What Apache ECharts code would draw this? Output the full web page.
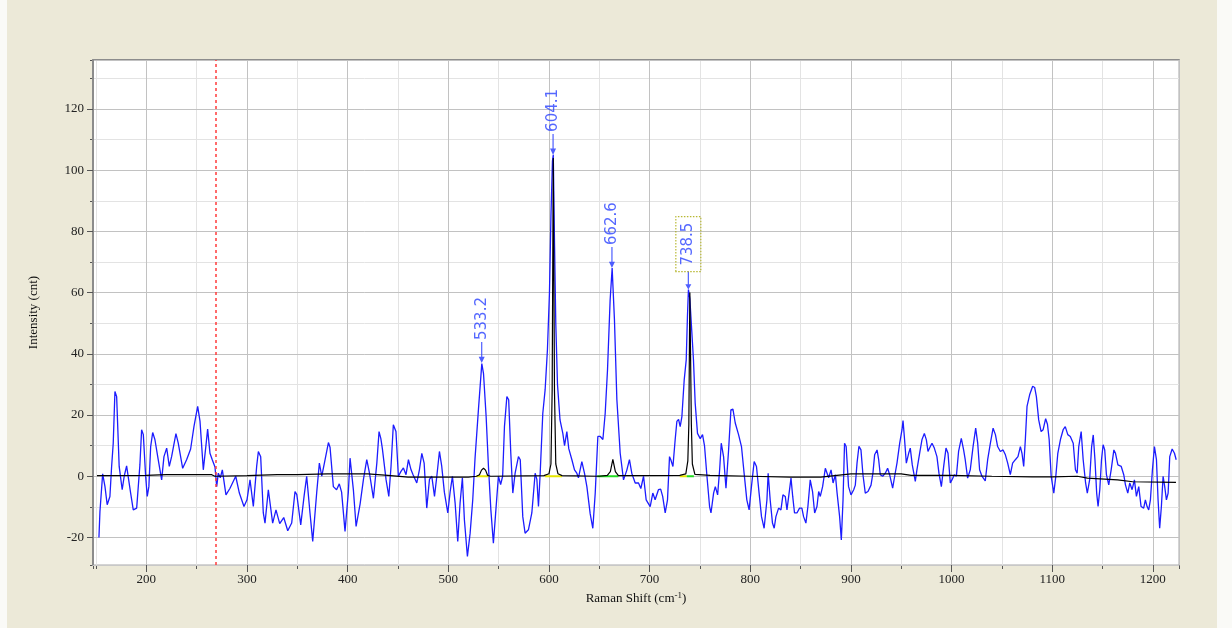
<!DOCTYPE html>
<html><head><meta charset="utf-8">
<script src="https://cdn.jsdelivr.net/npm/echarts@6/dist/echarts.min.js"></script>
<style>
html,body{margin:0;padding:0;background:#fafaf7;width:1232px;height:628px;overflow:hidden}
#panel{position:absolute;left:7px;top:0;width:1210px;height:628px;background:#ece9d8}
#chart{width:1210px;height:628px}
</style></head><body>
<div id="panel"><div id="chart"></div></div>
<script>
// Axis ranges (cm-1 and counts)
const shiftRange = [147, 1226];
const intensityRange = [-29, 136];
const redMarker = 269;

// Measured Raman spectrum (blue trace): [shift, intensity]
const spectrum = [[152.9,-20],[153.9,-11.5],[156.6,0.8],[158.9,-3.4],[161.1,-9.3],[163.8,-6.6],[165.5,3.2],[167.1,10.8],[168.8,27.7],[170.5,26],[173,3.2],[176,-4.4],[178,0],[180.4,3.4],[182,3],[184.4,-5.5],[187,-11],[190.4,-10.4],[193.6,3.7],[195.3,15.2],[197,13.6],[199.3,0],[200.9,-6.6],[202.5,-3.4],[204.3,9.7],[206.3,14.3],[208.5,12],[211.8,5.4],[215.2,-1.2],[217.5,6.4],[220.2,9.2],[222.8,3.2],[225.1,6.4],[229.4,13.9],[231.7,10.8],[236.1,2.6],[240,5.4],[244,8.9],[247.3,16.2],[251,22.8],[253.3,18],[256.6,2.1],[259.2,10],[260.9,15.4],[263.2,7.5],[265.5,5.4],[268.2,3],[269.9,-3.4],[271.5,1],[273.5,-0.5],[275.5,2.1],[279.1,-6.1],[283,-4],[288.8,0],[292.4,-5.5],[297,-9.9],[300,-7.7],[303,-1.2],[306.3,-9.9],[309.6,3.2],[311.3,8.1],[313.6,6.4],[316.2,-12],[317.9,-15.3],[321.2,-4.4],[325.5,-15.3],[328.8,-11],[332.5,-15.5],[336.5,-13.5],[340.5,-17.8],[344.4,-15.3],[347.7,-5],[349.5,-6],[353.4,-15.9],[356.7,-6.6],[359.3,0],[362.6,-12],[365.3,-21.3],[369.3,-5.2],[371.9,4.3],[374.3,0],[376.9,4.3],[380.9,11],[382.5,9.5],[385.8,-3.4],[389,-4.4],[391.7,-2.5],[394,-5.2],[397.4,-18],[400.7,-5.2],[402.4,5.9],[405.8,-4.8],[408.4,-16.4],[412.4,-9],[415.7,-1],[419,5.4],[421.7,1],[425.6,-7.2],[429,4.3],[431.2,14.6],[433,12.3],[434.5,9],[438.2,-1.2],[440.9,-6.6],[443.1,3.2],[445.4,16.8],[448,14.6],[450.4,0],[453,1.6],[455.4,2.7],[458,0.5],[460.4,5.4],[463,2.1],[465,0.5],[468.7,-2.2],[471.3,2.1],[473.7,7.5],[476,4.3],[478.6,-10.4],[481.3,-1],[483.6,0],[486.3,-6.6],[488.6,0],[491.2,8.1],[493.5,3.2],[496.1,-5.2],[499.5,-12],[501.8,-5.2],[504.1,0],[506.8,-8.8],[509.4,-21.3],[511.7,-8.8],[514,-0.5],[516,-14.2],[519,-26.2],[521.7,-18.6],[524.3,-7.7],[526.6,6],[530,22],[533.3,36.8],[535,33.5],[537.6,19.5],[539.9,3.2],[542.3,-11],[544.8,-21.9],[547,-12.3],[549.8,0],[552,-2.7],[554,0],[555.8,16.2],[558.2,26],[560,25],[562.1,7.5],[564.1,-5.5],[566.4,1],[569.7,6.4],[571.5,5.4],[574,-13.2],[576.3,-18.6],[579.6,-17.5],[583,-12],[586.3,1],[588,-1],[589.6,-9.9],[591.3,1],[593.9,20.6],[596.2,28.2],[598.5,41.3],[600.5,59.8],[602,85],[603.5,103],[604.3,105],[605.6,75],[606.8,50],[608.5,30],[611,18.4],[613.8,14],[615.5,10],[617.8,14.6],[619.7,9],[622.8,5.4],[625.4,2.1],[627.7,1],[629.3,-0.5],[632.7,4.8],[635.3,1],[637.7,-3.4],[641,-12.3],[643.6,-17],[646,-5.5],[648.6,13],[651,13],[653.6,12],[655.9,20.6],[658.2,34.8],[660.8,57.6],[662.8,68],[665.1,51],[667.5,25],[670.8,7.5],[674.1,-1.2],[677.4,2],[680,5.4],[682.3,1],[685.7,-2.2],[689,-2.2],[691.3,-4],[694,0],[696.6,-7.7],[700.6,-9.9],[703.2,-5.5],[705.5,-7.7],[708.8,-4.4],[711,-4.2],[713,-6.6],[715.5,-12],[717.8,-7.7],[719.8,6.4],[721.1,5.4],[723.2,3.2],[725.4,11.9],[727.1,17.9],[728.8,18.6],[730.4,16.2],[732.1,19.5],[734.4,31.5],[736.4,38],[737.6,52],[738.6,61],[740,58],[741.8,48],[743.6,38],[745.3,23.9],[747.6,14],[750.3,12.3],[752.6,13.6],[754.6,9.9],[757,0],[759.6,-9.9],[761,-12],[763.6,-5.5],[765.3,-3.4],[767.6,-6.1],[769.6,2.1],[771.2,10.8],[773.5,6.4],[775.9,-3.9],[778.5,8.6],[780.8,21.7],[782.8,21.9],[785.1,17.4],[788.4,13.6],[791.3,9.7],[793.9,1],[796.6,-7.7],[798.9,-11],[801.2,-3.4],[803.9,4.8],[806.2,3.2],[808.8,-5.5],[811.2,-13.2],[813.8,-17],[816.6,-7.7],[817.8,1],[819.8,-7.7],[822.1,-15.3],[823.8,-17],[825.5,-13.2],[828.2,-10.4],[830.5,-11],[832.5,-6.1],[834.8,-6.6],[836.5,-11],[838.2,-6.6],[840.5,-0.6],[842.2,-6.6],[844,-12],[846.4,-12],[849,-10.4],[851.3,-10.4],[853,-13.2],[855.3,-15.3],[857.3,-9.9],[859.6,-1.2],[861.9,-5],[864,-12],[866.3,-9.9],[868,-5],[869.6,-6.6],[871.9,-3.4],[874.6,2.6],[876.2,3.2],[877.9,-0.5],[880.3,2.1],[882.3,-2.2],[884.6,0.5],[886.3,-5.5],[888.8,-13.2],[890.5,-20.8],[892.2,-7.7],[893.7,10.8],[895.3,9.7],[897.7,-3.4],[900.1,-6.1],[902.8,-4.4],[904.4,-2.9],[906.1,4.3],[908,9.8],[910,8.6],[912,0.5],[914.3,-5.5],[917,-5],[920,-2.9],[921.9,1],[923.6,7],[926,8.6],[927.6,5.4],[929.2,0.5],[931.6,0],[934.2,1],[936.5,2.6],[938.5,0.5],[941.5,-3.9],[943.5,0],[945.8,4.3],[948.5,10.8],[950.8,15.2],[951.8,18.2],[953.1,13],[955.1,4.3],[957.4,7.5],[959,9.2],[961,3.7],[964,-1.7],[965.6,2.1],[968.3,7.5],[970.6,11.9],[973,14],[975,11.9],[976.6,8.1],[978.9,9.7],[980.6,10.8],[982.9,9.2],[985.5,6.4],[987.5,1],[989.9,-3.4],[992.2,3.2],[994.5,9.2],[996.5,7.5],[998.8,-2.2],[1000.4,-1.2],[1002.8,0.5],[1004.8,0],[1007,8.1],[1009.7,12.4],[1012,8.6],[1013.6,5.4],[1016,-0.6],[1018.6,2.1],[1021.4,9.7],[1024,15.7],[1026,10.8],[1027.9,2.1],[1030.2,0],[1031.9,-0.6],[1033.5,-1.5],[1035.9,5.4],[1038.6,10.8],[1041.3,15.7],[1043.6,13.6],[1045.8,9.7],[1048.5,8.1],[1051.2,8.6],[1053.5,7],[1055.8,4.3],[1058.4,0.5],[1060.7,4.3],[1063.4,5.4],[1066,6.4],[1068.4,9.7],[1070,7.5],[1071.7,3.2],[1073.4,12.4],[1075,22.8],[1077.6,26.6],[1080.6,29.4],[1082.6,29],[1084.3,26],[1086.6,18.4],[1089,14.6],[1091,15.2],[1093.5,18.8],[1095.3,17],[1097,12],[1099,0],[1101.6,-5.5],[1103.6,0],[1105.6,7.5],[1108.2,12],[1110.9,15.2],[1113,16.2],[1115.5,13.6],[1118,13],[1120.9,10.8],[1123.1,2.1],[1124.8,1],[1126.4,9.7],[1128.8,14.6],[1130.8,5.4],[1133.2,-2.2],[1134.9,-5.5],[1137.2,-1.2],[1139.2,9.7],[1140.8,13.5],[1142.5,5.4],[1144.2,-5.5],[1145.6,-9.9],[1147.3,-4.4],[1149,5.4],[1150.6,10.3],[1152.2,8.6],[1153.9,0.5],[1156.2,-2.8],[1158.6,2.1],[1161.3,8.6],[1162.9,7.5],[1165.3,3.7],[1168.6,3.2],[1171.1,0.5],[1172.8,-2.8],[1175.1,-5.5],[1177.1,-2.2],[1179.4,-4.4],[1181.7,-1.2],[1183.7,-6.6],[1186,-3.4],[1188.3,-9.9],[1190.9,-10.4],[1192.6,-7.7],[1194.3,-9.9],[1195.9,-11],[1197.6,-7.7],[1199.6,2.1],[1201.6,9.7],[1203.6,5.4],[1205.2,-7.7],[1206.8,-17],[1208.5,-9.9],[1210.2,0],[1211.8,-3.4],[1213.5,-7.7],[1215.2,-5.5],[1216.8,6.4],[1219.2,8.9],[1221.5,7.5],[1223.2,5.4]];

// Fitted baseline + peak fits (black trace)
const fitted = [[151,0.2],[200,0.3],[220,0.5],[265,0.5],[268,0],[300,0.2],[330,0.5],[350,0.5],[380,0.8],[420,0.8],[440,0.3],[460,-0.3],[520,-0.3],[528,0],[531,0.5],[533,2],[535,2.6],[537,2],[539,0.3],[542,0],[595,0.2],[600,0.8],[602,4],[603.2,28],[604.3,104],[605.5,28],[606.8,4],[609,0.8],[613,0.2],[650,0],[658,0.3],[661,1.5],[663.5,5.5],[666,1.5],[669,0.2],[730,0.3],[736,0.8],[738,5],[739,17],[740,60],[741.5,17],[742.5,4],[745,0.6],[760,0.3],[800,0],[840,-0.3],[870,-0.3],[900,0.8],[950,0.8],[960,0.3],[1000,0.3],[1040,0],[1080,-0.2],[1100,-0.2],[1125,0],[1135,-0.6],[1165,-1.2],[1180,-1.8],[1223,-2]];

// Peak integration ranges drawn on the baseline
const yellowRanges = [[528,0],[540,0],null,[596,0],[613,0],null,[730,0],[737,0]];
const greenRanges = [[648,0],[669,0],null,[737,0],[744,0]];

// Labelled peaks
const peakShifts = [533.2, 604.1, 662.6, 738.5];
const peakHeights = [37, 105, 68, 61];

const chart = echarts.init(document.getElementById('chart'), null, {renderer: 'canvas'});
const serif = 'Liberation Serif';
const labelStyle = {fontFamily: serif, fontSize: 13, color: '#222', formatter: v => String(v)};

const peakData = peakShifts.map((s, i) => {
  const item = {value: [s, peakHeights[i]]};
  if (i === 3) {
    item.symbolSize = [6, 18];
    item.label = {distance: 0, borderColor: '#a6a600', borderType: [1.5, 1.5], borderWidth: 1.2, padding: [5, 6, 5, 6]};
  }
  return item;
});

chart.setOption({
  animation: false,
  backgroundColor: 'transparent',
  textStyle: {fontFamily: serif},
  grid: {left: 86, right: 38, top: 60, bottom: 63, show: true, backgroundColor: '#ffffff', borderColor: '#a8a8a8', borderWidth: 1},
  xAxis: [
    {type: 'value', min: shiftRange[0], max: shiftRange[1], minInterval: 100, maxInterval: 100, position: 'bottom',
     name: 'Raman Shift (cm{sup|-1})', nameLocation: 'middle', nameGap: 26,
     nameTextStyle: {fontFamily: serif, fontSize: 13, color: '#111', rich: {sup: {fontFamily: serif, fontSize: 9, color: '#111', padding: [0, 0, 7, 0]}}},
     axisLine: {onZero: false, lineStyle: {color: '#c8c8c8', width: 1}},
     axisTick: {length: 7, lineStyle: {color: '#555'}},
     axisLabel: Object.assign({margin: 8, showMinLabel: false, showMaxLabel: false}, labelStyle),
     splitLine: {show: true, lineStyle: {color: '#c2c2c2', width: 1}}, z: 2},
    {type: 'value', min: shiftRange[0], max: shiftRange[1], minInterval: 50, maxInterval: 50, position: 'bottom',
     axisLine: {show: false, onZero: false}, axisTick: {length: 4, lineStyle: {color: '#555'}},
     axisLabel: {show: false}, splitLine: {show: true, lineStyle: {color: '#e3e3e3', width: 1}}, z: 1},
    {type: 'value', min: shiftRange[0], max: shiftRange[1], position: 'top',
     axisLine: {show: true, onZero: false, lineStyle: {color: '#8c8c8c', width: 2}},
     axisTick: {show: false}, axisLabel: {show: false}, splitLine: {show: false}}
  ],
  yAxis: [
    {type: 'value', min: intensityRange[0], max: intensityRange[1], minInterval: 20, maxInterval: 20, position: 'left',
     name: 'Intensity (cnt)', nameLocation: 'middle', nameGap: 53,
     nameTextStyle: {fontFamily: serif, fontSize: 13, color: '#111'},
     axisLine: {show: true, onZero: false, lineStyle: {color: '#8c8c8c', width: 2}},
     axisTick: {length: 6, lineStyle: {color: '#555'}},
     axisLabel: Object.assign({margin: 9, showMinLabel: false, showMaxLabel: false}, labelStyle),
     splitLine: {show: true, lineStyle: {color: '#c2c2c2', width: 1}}, z: 2},
    {type: 'value', min: intensityRange[0], max: intensityRange[1], minInterval: 10, maxInterval: 10, position: 'left',
     axisLine: {show: false, onZero: false}, axisTick: {length: 3, lineStyle: {color: '#555'}},
     axisLabel: {show: false}, splitLine: {show: true, lineStyle: {color: '#e3e3e3', width: 1}}, z: 1}
  ],
  series: [
    {type: 'line', name: 'spectrum', data: spectrum, xAxisIndex: 0, yAxisIndex: 0, showSymbol: false, symbol: 'none',
     lineStyle: {color: '#1c1cff', width: 1.3}, z: 3, clip: true},
    {type: 'line', name: 'yellow', data: yellowRanges, showSymbol: false, symbol: 'none', connectNulls: false,
     lineStyle: {color: '#e6e600', width: 2}, z: 4},
    {type: 'line', name: 'green', data: greenRanges, showSymbol: false, symbol: 'none', connectNulls: false,
     lineStyle: {color: '#22dd22', width: 2}, z: 4},
    {type: 'line', name: 'fit', data: fitted, showSymbol: false, symbol: 'none',
     lineStyle: {color: '#000000', width: 1.2}, z: 5,
     markLine: {silent: true, symbol: 'none', label: {show: false},
       lineStyle: {color: '#ff3b3b', type: [3, 3], width: 1.5},
       data: [{xAxis: redMarker}]}},
    {type: 'scatter', name: 'peaks', data: peakData,
     symbol: 'path://M3.4,0 L4.6,0 L4.6,14 L7,14 L4,20 L1,14 L3.4,14 Z',
     symbolSize: [6, 21], symbolOffset: [0, '-50%'],
     itemStyle: {color: '#2236ff'}, z: 6,
     label: {show: true, position: 'top', rotate: 90, align: 'left', verticalAlign: 'middle', distance: 2,
       fontFamily: 'DejaVu Sans', fontSize: 15, color: '#2a42ff',
       formatter: p => p.value[0].toFixed(1)}}
  ]
});
</script>
</body></html>
